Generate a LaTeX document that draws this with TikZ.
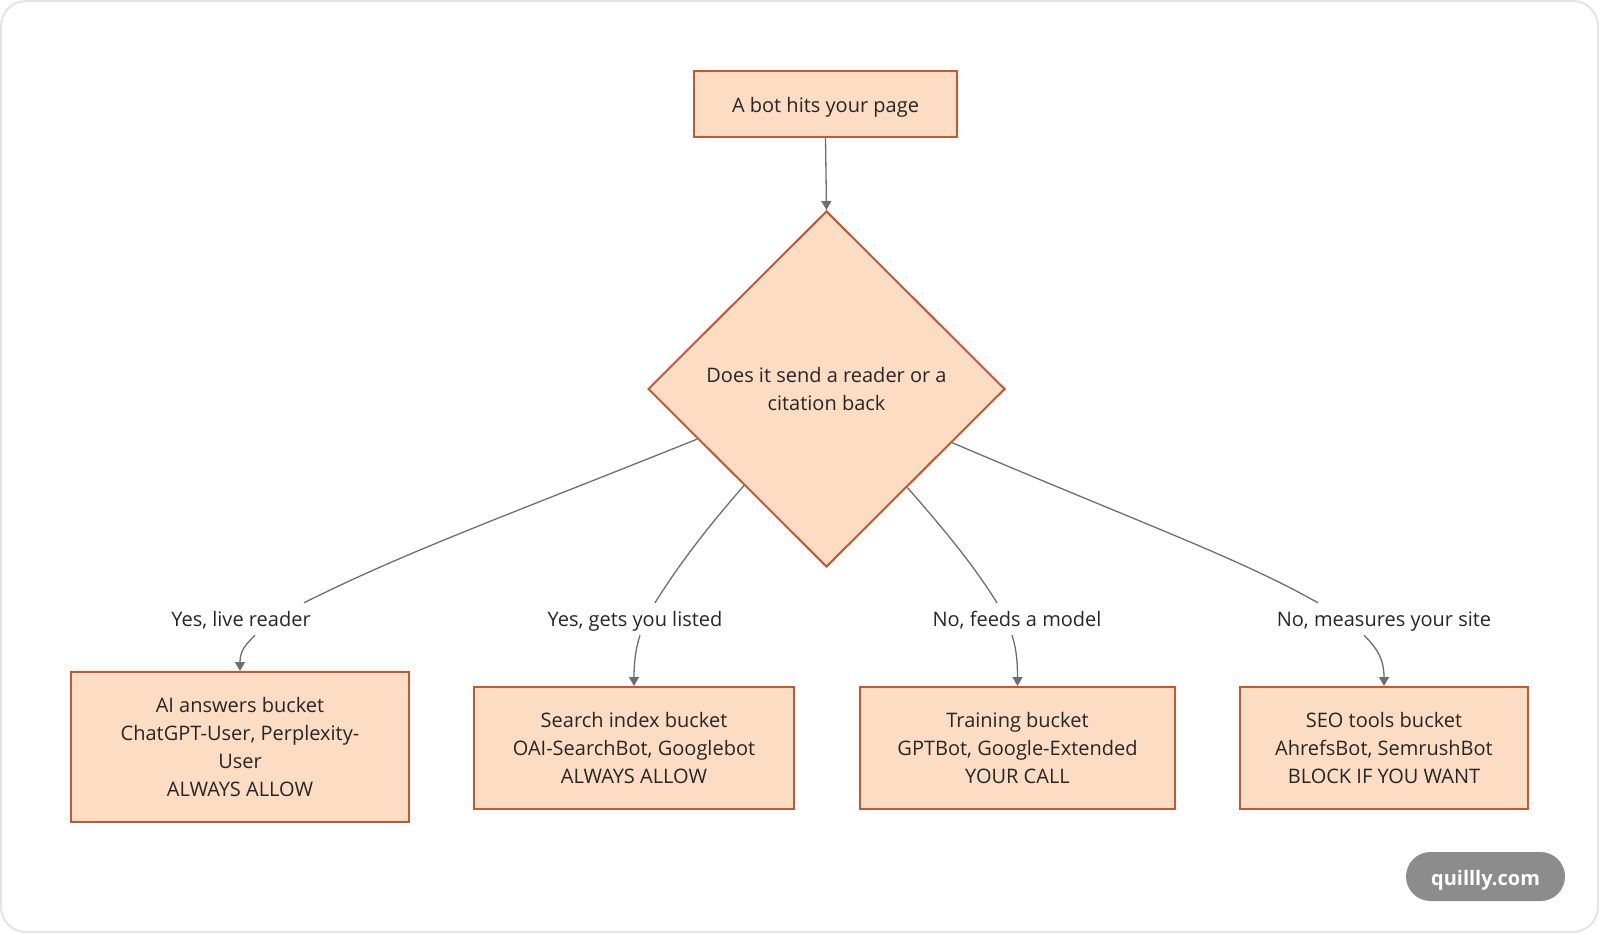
\documentclass[tikz,border=0pt]{standalone}
\usepackage{fontspec}
\setmainfont{Open Sans}
\usetikzlibrary{shapes.geometric,arrows.meta,calc}
\definecolor{boxfill}{HTML}{FDDCC4}
\definecolor{boxline}{HTML}{BF5A36}
\definecolor{edgecol}{HTML}{6E6E6E}
\definecolor{framecol}{HTML}{E4E4E4}
\definecolor{badgecol}{HTML}{8C8C8C}
\begin{document}
\begin{tikzpicture}[x=1pt,y=-1pt,
  every node/.style={font=\fontsize{20}{28}\selectfont, text=black!85},
  procbox/.style={draw=boxline, fill=boxfill, line width=2pt, align=center, inner sep=0pt},
  decbox/.style={shape=diamond, draw=boxline, fill=boxfill, line width=2pt, align=center, aspect=1, minimum width=357pt, minimum height=356pt, inner sep=0pt},
  lbl/.style={inner sep=0pt, minimum height=32pt, text height=18pt, text depth=3.6pt},
  edge/.style={draw=edgecol, line width=1.3pt},
  arr/.style={edge, -{Triangle[length=9pt,width=10pt]}}
]
\useasboundingbox (0,0) rectangle (1600,934);
\draw[framecol, line width=2pt, rounded corners=25pt] (1,1) rectangle (1598,932);

\node[procbox, minimum width=263pt, minimum height=66pt, text height=20pt, text depth=3.6pt] (top) at (825.5,104) {A bot hits your page};
\node[decbox] (d) at (826.5,389) {Does it send a reader or a\\citation back};

\node[procbox, minimum width=338pt, minimum height=150pt] (b1) at (240,747) {AI answers bucket\\ChatGPT-User, Perplexity-\\User\\ALWAYS ALLOW};
\node[procbox, minimum width=320pt, minimum height=122pt] (b2) at (634,748) {Search index bucket\\OAI-SearchBot, Googlebot\\ALWAYS ALLOW};
\node[procbox, minimum width=315pt, minimum height=122pt] (b3) at (1017.5,748) {Training bucket\\GPTBot, Google-Extended\\YOUR CALL};
\node[procbox, minimum width=288pt, minimum height=122pt] (b4) at (1384,748) {SEO tools bucket\\AhrefsBot, SemrushBot\\BLOCK IF YOU WANT};

\node[lbl] (l1) at (241,619) {Yes, live reader};
\node[lbl] (l2) at (635,619) {Yes, gets you listed};
\node[lbl] (l3) at (1017,619) {No, feeds a model};
\node[lbl] (l4) at (1384,619) {No, measures your site};

\draw[arr] (top.south) -- (d.north);

\draw[edge] ($(d.west)!0.28!(d.south)$) .. controls +(-200,80) and +(100,-50) .. ($(l1.north)+(63,0)$);
\draw[arr] ($(l1.south)+(14,0)$) .. controls +(-10,10) and +(0,-20) .. (b1.north);

\draw[edge] ($(d.west)!0.54!(d.south)$) .. controls +(-35,40) and +(25,-40) .. ($(l2.north)+(20,0)$);
\draw[arr] ($(l2.south)+(5,0)$) .. controls +(-5,15) and +(0,-20) .. (b2.north);

\draw[edge] ($(d.south)!0.45!(d.east)$) .. controls +(35,40) and +(-25,-40) .. ($(l3.north)+(-20,0)$);
\draw[arr] ($(l3.south)+(-5,0)$) .. controls +(5,15) and +(0,-20) .. (b3.north);

\draw[edge] ($(d.south)!0.70!(d.east)$) .. controls +(200,85) and +(-80,-45) .. ($(l4.north)+(-66,0)$);
\draw[arr] ($(l4.south)+(-20,0)$) .. controls +(15,15) and +(0,-25) .. (b4.north);

\node[fill=badgecol, rounded corners=24.5pt, minimum width=159pt, minimum height=49pt, inner sep=0pt, text height=22pt, text depth=3.6pt, font=\fontsize{20}{24}\selectfont\bfseries, text=white] (badge) at (1485.5,876.5) {quillly.com};
\end{tikzpicture}
\end{document}
